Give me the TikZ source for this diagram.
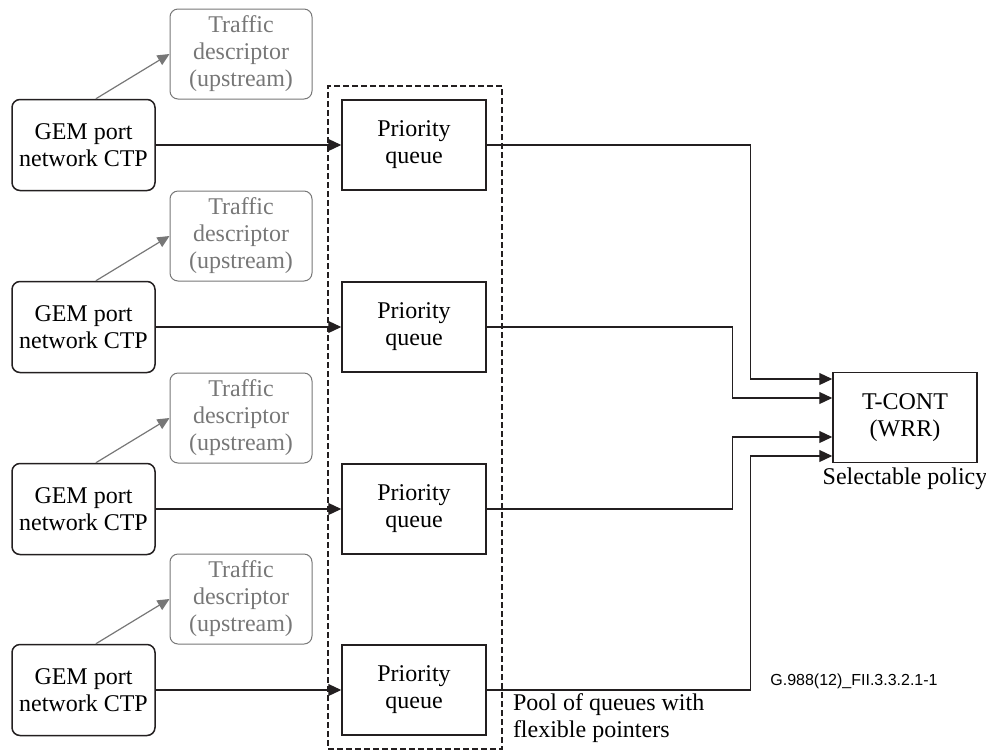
\documentclass[tikz,border=0pt]{standalone}
\usepackage{fontspec}
\setmainfont{Liberation Serif}
\newfontfamily\figsans{Liberation Sans}
\definecolor{mInk}{HTML}{231F20}
\definecolor{mGrey}{HTML}{777777}
\usetikzlibrary{positioning,arrows.meta,calc}

\begin{document}
\begin{tikzpicture}[x=0.5pt, y=-0.5pt, font=\fontsize{12}{13.5}\selectfont,
  gem/.style={draw=mInk, line width=0.75pt, rounded corners=4pt, minimum width=71.5pt, minimum height=45.5pt, align=center, inner sep=1pt},
  tdesc/.style={draw=mGrey, text=mGrey, line width=0.5pt, rounded corners=4pt, minimum width=71pt, minimum height=45pt, align=center, inner sep=1pt},
  pq/.style={draw=mInk, line width=0.75pt, minimum width=72pt, minimum height=45pt, align=center},
  flow/.style={draw=mInk, line width=0.6pt, -{Triangle[length=6.5pt,width=6pt]}},
  tdflow/.style={draw=mGrey, line width=0.6pt, -{Triangle[length=6pt,width=5.5pt]}}]
\useasboundingbox (0,0) rectangle (986,751);
% pool of queues
\node[draw=mInk, line width=0.6pt, dash pattern=on 3pt off 1.5pt, minimum width=87pt, minimum height=331.5pt] (pool) at (415,417.5) {};
\foreach \i/\y in {1/145,2/327,3/509,4/690} {
  \node[gem] (g\i) at (83.5,\y) {GEM port\\network CTP};
  \node[tdesc] (t\i) at (241,\y-91) {Traffic\\descriptor\\(upstream)};
  \node[pq] (q\i) at (414,\y) {Priority\\queue};
  \draw[tdflow] (g\i.75) -- (t\i.west);
  \draw[flow] (g\i) -- (q\i);
}
\node[pq] (tc) at (905,417.5) {T-CONT\\(WRR)};
\node[below=2pt of tc, inner sep=0pt] (sel) {Selectable policy};
% inputs of the T-CONT
\coordinate (in1) at ($(tc.west)+(0,-38.5)$);
\coordinate (in2) at ($(tc.west)+(0,-19.5)$);
\coordinate (in3) at ($(tc.west)+(0,19.5)$);
\coordinate (in4) at ($(tc.west)+(0,38.5)$);
\draw[flow] (q1.east) -| ([xshift=-41pt]in1) -- (in1);
\draw[flow] (q2.east) -| ([xshift=-50pt]in2) -- (in2);
\draw[flow] (q3.east) -| ([xshift=-50pt]in3) -- (in3);
\draw[flow] (q4.east) -| ([xshift=-41pt]in4) -- (in4);
\node[anchor=south west, align=left, inner sep=0pt] (poollbl) at ([xshift=5pt,yshift=3.5pt]pool.south east) {Pool of queues with\\flexible pointers};
\node[font=\figsans\fontsize{8}{9.6}\selectfont] (figid) at (854,681) {G.988(12)\_FII.3.3.2.1-1};
\end{tikzpicture}
\end{document}
